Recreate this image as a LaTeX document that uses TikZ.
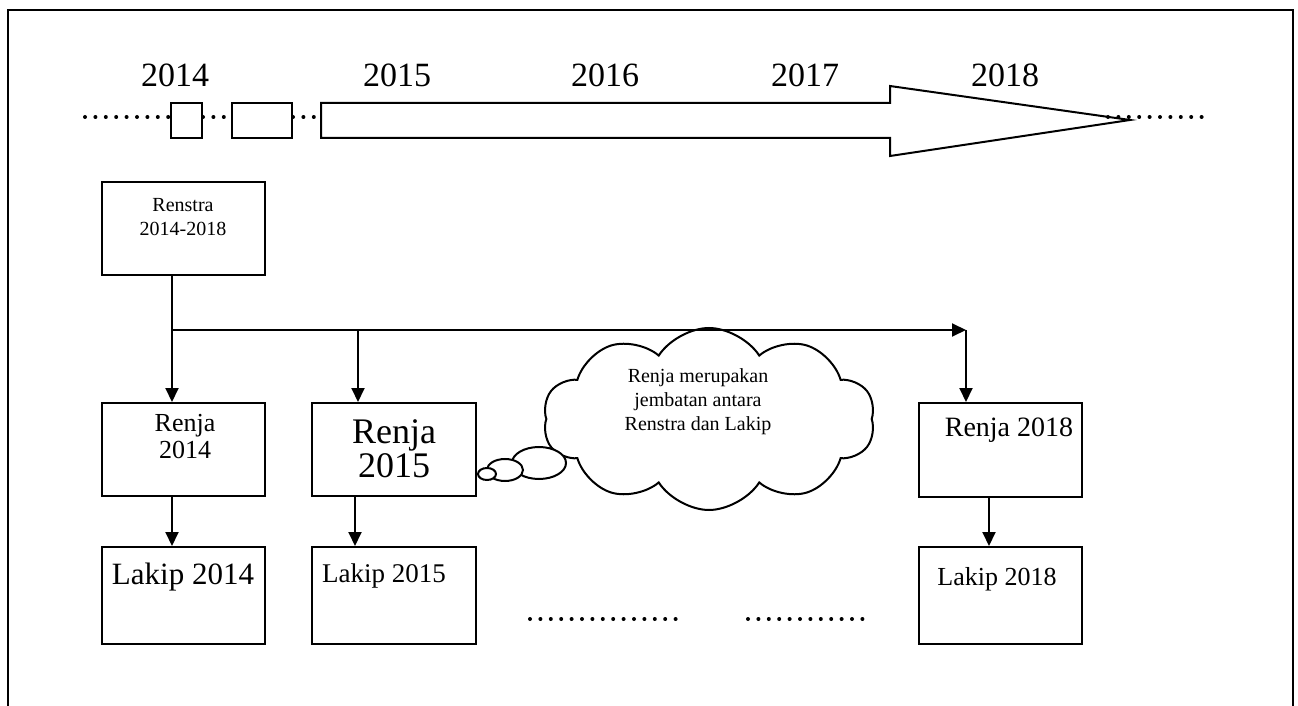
\documentclass[tikz,border=0pt]{standalone}
\usepackage{fontspec}
\setmainfont{Liberation Serif}
\usepackage{tikz}
\usetikzlibrary{arrows.meta,calc,positioning,shapes.symbols}

\tikzset{
  kotak/.style={draw,line width=1pt,minimum width=81.5pt,inner sep=0pt},
  tulisan/.style={inner sep=0pt,align=center},
  garis/.style={line width=1pt},
  panah/.style={line width=1pt,-{Triangle[length=7pt,width=6.5pt]}},
  titik/.style={line width=2pt,line cap=round,dash pattern=on 0pt off 5.2pt},
}

\begin{document}
\begin{tikzpicture}[x=0.5pt,y=-0.5pt]
  \useasboundingbox (0,0) rectangle (1298,706);
  % bingkai luar
  \draw[garis] (8,706) -- (8,10) -- (1293,10) -- (1293,706);

  % tahun
  \foreach \th/\xx in {2014/175,2015/397,2016/605,2017/805,2018/1005}
    \node[tulisan,font=\fontsize{17}{20}\selectfont] (th\th) at (\xx,75) {\th};

  % garis waktu
  \draw[titik] (85,117) -- (170,117);
  \node[kotak,minimum width=15.5pt,minimum height=17.5pt] (k1) at (186.5,120.5) {};
  \draw[titik] (k1.east |- 0,117) -- (232,117);
  \node[kotak,minimum width=30pt,minimum height=17.5pt] (k2) at (262,120.5) {};
  \draw[titik] (k2.east |- 0,117) -- (321,117);
  \draw[garis,fill=white] (321,103) -- (890,103) -- (890,86) -- (1130,120)
    -- (890,156) -- (890,138) -- (321,138) -- cycle;
  \draw[titik] (1108,117) -- (1207,117);

  % kotak-kotak
  \node[kotak,minimum height=46.5pt] (renstra) at (183.5,228.5) {};
  \node[kotak,minimum height=46.5pt] (renja14) at (183.5,449.5) {};
  \node[kotak,minimum width=82pt,minimum height=46.5pt] (renja15) at (394,449.5) {};
  \node[kotak,minimum height=47pt] (renja18) at (1000.5,450) {};
  \node[kotak,minimum height=48.5pt] (lakip14) at (183.5,595.5) {};
  \node[kotak,minimum width=82pt,minimum height=48.5pt] (lakip15) at (394,595.5) {};
  \node[kotak,minimum height=48.5pt] (lakip18) at (1000.5,595.5) {};

  \node[tulisan,font=\fontsize{10}{12}\selectfont] (tRenstra) at (183,217) {Renstra\\2014-2018};
  \node[tulisan,font=\fontsize{13}{13.5}\selectfont] (tRenja14) at (185,437) {Renja\\2014};
  \node[tulisan,font=\fontsize{18}{17}\selectfont] (tRenja15) at (394,449) {Renja\\2015};
  \node[tulisan,font=\fontsize{14}{16}\selectfont] (tRenja18) at (1009,430) {Renja 2018};
  \node[tulisan,font=\fontsize{15.5}{18}\selectfont] (tLakip14) at (183,577) {Lakip 2014};
  \node[tulisan,font=\fontsize{13.5}{16}\selectfont] (tLakip15) at (384,576) {Lakip 2015};
  \node[tulisan,font=\fontsize{13}{16}\selectfont] (tLakip18) at (997,579) {Lakip 2018};

  % awan
  \node[cloud,draw,line width=1pt,cloud puffs=10,cloud puff arc=115,aspect=1.8,
        minimum width=166pt,minimum height=91pt] (awan) at (709,419) {};
  \node[tulisan,font=\fontsize{10}{12}\selectfont] (tAwan) at (698,402)
    {Renja merupakan\\jembatan antara\\Renstra dan Lakip};
  \draw[garis,fill=white] (539,463) ellipse (27 and 16);
  \draw[garis,fill=white] (505,470) ellipse (18 and 11);
  \draw[garis,fill=white] (487,474) ellipse (9 and 6);

  % panah
  \coordinate (cabang) at (172,330);
  \coordinate (cabang15) at (358,330);
  \coordinate (sudut) at (966,330);
  \draw[garis] (renstra.south -| cabang) -- (cabang);
  \draw[panah] (cabang) -- (renja14.north -| cabang);
  \draw[panah] (cabang) -- (sudut);
  \draw[panah] (cabang15) -- (renja15.north -| cabang15);
  \draw[panah] (sudut) -- (renja18.north -| sudut);

  \coordinate (ke14) at (172,520);
  \coordinate (ke15) at (355,520);
  \coordinate (ke18) at (989,520);
  \draw[panah] (renja14.south -| ke14) -- (lakip14.north -| ke14);
  \draw[panah] (renja15.south -| ke15) -- (lakip15.north -| ke15);
  \draw[panah] (renja18.south -| ke18) -- (lakip18.north -| ke18);

  % titik-titik bawah
  \draw[titik] (530,619) -- (677,619);
  \draw[titik] (748,619) -- (872,619);
\end{tikzpicture}
\end{document}
